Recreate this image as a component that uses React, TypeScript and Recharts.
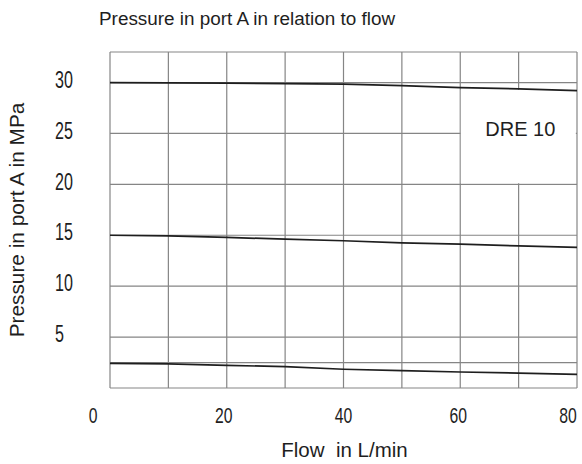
import React from "react";
import {
    LineChart,
    Line,
    XAxis,
    YAxis,
    CartesianGrid,
    ReferenceArea,
} from "recharts";

// values
const FLOW = [0, 10, 20, 30, 40, 50, 60, 70, 80];
const HIGH_SETTING = [30.0, 29.97, 29.94, 29.9, 29.85, 29.7, 29.5, 29.38, 29.2];
const MID_SETTING = [15.0, 14.95, 14.79, 14.62, 14.46, 14.26, 14.13, 13.96, 13.81];
const LOW_SETTING = [2.42, 2.36, 2.23, 2.09, 1.84, 1.7, 1.57, 1.47, 1.34];

const X_TICKS = [0, 20, 40, 60, 80];
const Y_TICKS = [5, 10, 15, 20, 25, 30];
const GRID_X = [0, 10, 20, 30, 40, 50, 60, 70, 80];
const GRID_Y = [0, 2.5, 5, 10, 15, 20, 25, 30, 33];

const data = FLOW.map((flow, i) => ({
    flow,
    high: HIGH_SETTING[i],
    mid: MID_SETTING[i],
    low: LOW_SETTING[i],
}));

const FONT = "'Liberation Sans', Arial, sans-serif";
const INK = "#1e1e1e";
const GRID = "#858585";

// the scanned labels sit slightly off their grid lines
const X_NUDGE: Record<number, number> = { 0: -17, 20: -3, 60: -2, 80: -6 };

// digits in the scan are tall and narrow, so squeeze them horizontally
const XTick = ({ x, y, payload }: any) => (
    <text
        transform={`translate(${x + (X_NUDGE[payload.value] || 0)},${y}) scale(0.7,1)`}
        dy="0.71em"
        textAnchor="middle"
        fontFamily={FONT}
        fontSize={22.5}
        fill={INK}
    >
        {payload.value}
    </text>
);

const YTick = ({ y, payload }: any) => (
    <text
        transform={`translate(55,${y - 3}) scale(0.7,1)`}
        dy="0.355em"
        textAnchor="start"
        fontFamily={FONT}
        fontSize={23}
        fill={INK}
    >
        {payload.value}
    </text>
);

export default function App() {
    return (
        <div style={{ position: "absolute", left: 0, top: 0, width: 582, height: 464, background: "#fff" }}>
            <svg width={582} height={40} style={{ position: "absolute", left: 0, top: 0 }}>
                <text x={99} y={25} fontFamily={FONT} fontSize={18.9} fill={INK}>
                    Pressure in port A in relation to flow
                </text>
            </svg>
            <LineChart
                width={582}
                height={464}
                data={data}
                margin={{ top: 52, right: 5, bottom: 0, left: 0 }}
            >
                <CartesianGrid
                    stroke={GRID}
                    strokeWidth={1.2}
                    horizontalValues={GRID_Y}
                    verticalValues={GRID_X}
                />
                <XAxis
                    dataKey="flow"
                    type="number"
                    domain={[0, 80]}
                    ticks={X_TICKS}
                    axisLine={false}
                    tickLine={false}
                    tickSize={0}
                    tickMargin={19}
                    height={76}
                    tick={<XTick />}
                    label={{
                        value: "Flow\u00a0 in L/min",
                        position: "insideBottom",
                        offset: 7,
                        fontSize: 20.5,
                        fontFamily: FONT,
                        fill: INK,
                        dx: 1,
                    }}
                />
                <YAxis
                    type="number"
                    domain={[0, 33]}
                    ticks={Y_TICKS}
                    axisLine={false}
                    tickLine={false}
                    tickSize={0}
                    width={110}
                    tick={<YTick />}
                    label={{
                        value: "Pressure in port A in MPa",
                        angle: -90,
                        position: "insideLeft",
                        offset: 17,
                        fontSize: 20.8,
                        fontFamily: FONT,
                        fill: INK,
                        style: { textAnchor: "middle" },
                    }}
                />
                <ReferenceArea
                    x1={60.1}
                    x2={79.8}
                    y1={20.1}
                    y2={29.3}
                    fill="#ffffff"
                    fillOpacity={1}
                    stroke="none"
                    label={{
                        value: "DRE 10",
                        position: "insideTop",
                        offset: 32,
                        dx: 2,
                        fontSize: 20,
                        fontFamily: FONT,
                        fill: INK,
                    }}
                />
                <Line dataKey="high" stroke={INK} strokeWidth={1.7} dot={false} isAnimationActive={false} />
                <Line dataKey="mid" stroke={INK} strokeWidth={1.7} dot={false} isAnimationActive={false} />
                <Line dataKey="low" stroke={INK} strokeWidth={1.7} dot={false} isAnimationActive={false} />
            </LineChart>
        </div>
    );
}
